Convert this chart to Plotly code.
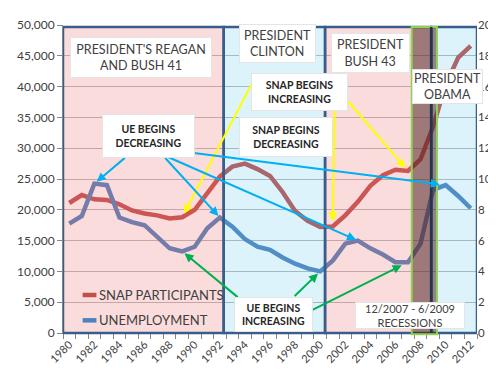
import plotly.graph_objects as go

years = list(range(1980, 2013))
snap_participants = [21100, 22400, 21700, 21600, 20900, 19900, 19400, 19100, 18600, 18800,
                     20000, 22600, 25400, 27000, 27500, 26600, 25500, 22900, 19800, 18200,
                     17200, 17300, 19100, 21300, 23900, 25600, 26500, 26300, 28200, 33500,
                     40300, 44700, 46600]
unemployment = [7.1, 7.6, 9.7, 9.6, 7.5, 7.2, 7.0, 6.2, 5.5, 5.3,
                5.6, 6.8, 7.5, 6.9, 6.1, 5.6, 5.4, 4.9, 4.5, 4.2,
                4.0, 4.7, 5.8, 6.0, 5.5, 5.1, 4.6, 4.6, 5.8, 9.3,
                9.6, 8.9, 8.1]
x_tick_labels = [str(y) for y in range(1980, 2013, 2)]
series_names = ["SNAP PARTICIPANTS", "UNEMPLOYMENT"]

FONT = "Lato"
RED = "#C0504D"
BLUE = "#4F81BD"
NAVY = "#385D8A"

# plot area in pixels
L, R, T, B = 48, 469, 9, 325
PW, PH = R - L, B - T


def pxx(px):
    return (px - L) / PW


def pxy(py):
    return (B - py) / PH


fig = go.Figure()
fig.add_trace(go.Scatter(x=years, y=snap_participants, name=series_names[0], mode="lines",
                         line=dict(color=RED, width=4.5), yaxis="y"))
fig.add_trace(go.Scatter(x=years, y=unemployment, name=series_names[1], mode="lines",
                         line=dict(color=BLUE, width=4.5), yaxis="y2"))

PINK = "rgba(240,110,110,0.24)"
LBLUE = "rgba(80,195,240,0.2)"
top = pxy(11)
regions = [
    (1979.5, 1992.31, PINK),
    (1992.31, 2000.39, LBLUE),
    (2000.39, 2008.85, PINK),
    (2008.85, 2012.5, LBLUE),
]
shapes = []
for x0, x1, col in regions:
    shapes.append(dict(type="rect", xref="x", yref="paper", x0=x0, x1=x1, y0=0, y1=top,
                       fillcolor=col, line=dict(color=NAVY, width=2.5), layer="above"))
# recession block
shapes.append(dict(type="rect", xref="x", yref="paper", x0=2007.3, x1=2009.31, y0=-0.004, y1=top,
                   fillcolor="rgba(70,30,30,0.52)", line=dict(color="#92D050", width=2), layer="above"))
shapes.append(dict(type="line", xref="x", yref="paper", x0=2008.85, x1=2008.85, y0=0, y1=top,
                   line=dict(color="#24364F", width=2.5), layer="above"))
# legend samples
shapes.append(dict(type="line", xref="paper", yref="paper", x0=pxx(68), x1=pxx(82), y0=pxy(286), y1=pxy(286),
                   line=dict(color=RED, width=4.5), layer="above"))
shapes.append(dict(type="line", xref="paper", yref="paper", x0=pxx(68), x1=pxx(82), y0=pxy(312), y1=pxy(312),
                   line=dict(color=BLUE, width=4.5), layer="above"))

annotations = []


def arrow(i, series, yref, ax, ay, color, standoff=3):
    annotations.append(dict(x=years[i], y=series[i], xref="x", yref=yref, ax=ax, ay=ay,
                            showarrow=True, arrowhead=2, arrowsize=0.9, arrowwidth=2,
                            arrowcolor=color, standoff=standoff, text=""))


YEL, CYAN, GRN = "#FFFF00", "#00B0F0", "#00B050"
# SNAP begins increasing
arrow(years.index(1989), snap_participants, "y", 73, -140, YEL, 4)
arrow(years.index(2001), snap_participants, "y", 2, -121, YEL, 5)
arrow(years.index(2007), snap_participants, "y", -62, -72, YEL, 4)
# UE begins decreasing
arrow(years.index(1982), unemployment, "y2", 32, -27, CYAN, 3)
arrow(years.index(1992), unemployment, "y2", -56, -61, CYAN, 2)
arrow(years.index(2003), unemployment, "y2", -193, -85, CYAN, 2)
arrow(years.index(2010), unemployment, "y2", -259, -33, CYAN, 6)
# UE begins increasing
arrow(years.index(1989), unemployment, "y2", 57, 47, GRN, 3)
arrow(years.index(2000), unemployment, "y2", -27, 26, GRN, 3)
arrow(years.index(2007), unemployment, "y2", -100, 50, GRN, 7)


def box(text, x0, y0, x1, y1, size=12, bold=False):
    t = "<b>" + text + "</b>" if bold else text
    annotations.append(dict(text=t, xref="paper", yref="paper", x=pxx(x0), y=pxy(y0),
                            xanchor="left", yanchor="top", width=x1 - x0 - 2, height=y1 - y0 - 2,
                            align="center", valign="middle", showarrow=False,
                            bgcolor="white", bordercolor="#E4E4E4", borderwidth=1, borderpad=0,
                            font=dict(family=FONT, size=size, color="#262626" if bold else "#404040")))


box("PRESIDENT'S REAGAN<br>AND BUSH 41", 55, 21, 197, 62, 12.5)
box("PRESIDENT<br>CLINTON", 227, 8, 304, 47, 12.5)
box("PRESIDENT<br>BUSH 43", 321, 17, 400, 57, 12.5)
box("PRESIDENT<br>OBAMA", 403, 54, 474, 89, 12.5)
box("SNAP BEGINS<br>INCREASING", 239, 58, 336, 96, 10.5, True)
box("SNAP BEGINS<br>DECREASING", 227, 103, 321, 143, 10.5, True)
box("UE BEGINS<br>DECREASING", 88, 100, 181, 144, 10.5, True)
box("UE BEGINS<br>INCREASING", 222, 288, 301, 323, 10.5, True)
box("12/2007 - 6/2009<br>RECESSIONS", 345, 293, 455, 320, 11)

# legend text
for name, py in zip(series_names, [286, 312]):
    annotations.append(dict(text=name, xref="paper", yref="paper", x=pxx(83), y=pxy(py),
                            xanchor="left", yanchor="middle", showarrow=False,
                            font=dict(family=FONT, size=13, color="#404040")))

fig.update_layout(
    width=496, height=372,
    margin=dict(l=L, r=496 - R, t=T, b=372 - B),
    paper_bgcolor="white", plot_bgcolor="white",
    showlegend=False,
    font=dict(family=FONT, color="#595959"),
    shapes=shapes, annotations=annotations,
    xaxis=dict(range=[1979.5, 2012.5], tickvals=list(range(1980, 2013, 2)), ticktext=x_tick_labels,
               tickangle=-45, ticks="", showgrid=False, zeroline=False,
               showline=True, linecolor="#868686", linewidth=1,
               tickfont=dict(family=FONT, size=11, color="#404040"),
               minor=dict(tick0=1979.5, dtick=1, ticks="outside", ticklen=5, tickcolor="#868686",
                          showgrid=False)),
    yaxis=dict(range=[0, 50000], dtick=5000, tickformat=",", showgrid=True, gridcolor="#B8B8B8",
               gridwidth=1, zeroline=False, showline=True, linecolor="#868686",
               ticks="outside", ticklen=5, tickcolor="#868686",
               tickfont=dict(family=FONT, size=12, color="#404040")),
    yaxis2=dict(range=[0, 20], dtick=2, overlaying="y", side="right", showgrid=False,
                zeroline=False, showline=False, ticks="",
                tickfont=dict(family=FONT, size=11.5, color="#404040")),
)

fig.write_html("out.html")
